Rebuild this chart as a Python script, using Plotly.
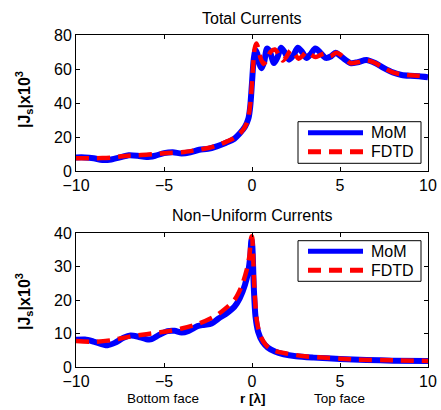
import plotly.graph_objects as go

# ---- Data: Total currents (top panel) ----
top_mom_x = [-10, -9.5, -9, -8.5, -8, -7.5, -7, -6.5, -6, -5.5, -5, -4.5, -4, -3.5, -3, -2.5, -2, -1.5, -1,
             -0.7, -0.4, -0.2, -0.1, 0, 0.1, 0.2, 0.3, 0.42, 0.55, 0.7, 0.85, 1.0, 1.25, 1.45, 1.65, 1.85,
             2.1, 2.35, 2.6, 2.85, 3.1, 3.35, 3.6, 3.85, 4.2, 4.5, 4.75, 5.1, 5.6, 6.0, 6.5, 7.0, 7.5, 8.0,
             8.5, 9.0, 9.5, 10]
top_mom_y = [8, 8, 7.5, 6.5, 6.8, 8, 9.3, 9, 8.2, 9, 10.5, 11, 10.3, 11, 12.5, 13, 14.5, 16.5, 19,
             22, 26, 31, 38, 52, 66, 71, 69, 63, 60.5, 64.5, 72, 70.5, 63.5, 67, 72.5, 70,
             65.5, 68, 72.5, 70, 66.5, 69, 72, 70, 66.5, 67.5, 69.5, 67, 63.5, 64, 65.3, 63.5, 60.5, 58,
             56.5, 56, 55.8, 55.2]

top_fdtd_x = [-10, -9.5, -9, -8.5, -8, -7.5, -7, -6.5, -6, -5.5, -5, -4.5, -4, -3.5, -3, -2.5, -2, -1.5, -1,
              -0.6, -0.3, -0.15, -0.05, 0.05, 0.15, 0.25, 0.35, 0.5, 0.65, 0.85, 1.05, 1.3, 1.55, 1.75, 1.95,
              2.2, 2.45, 2.65, 2.85, 3.1, 3.35, 3.6, 3.85, 4.1, 4.45, 4.8, 5.2, 5.6, 6.0, 6.5, 7.0, 7.5, 8.0,
              8.5, 9.0, 9.5, 10]
top_fdtd_y = [7.5, 7.5, 7.5, 7.6, 7.9, 8.5, 9, 9.3, 9.5, 10, 10.5, 10.8, 11, 11.7, 12.5, 13.5, 15, 17, 19.5,
              23, 28, 35, 45, 60, 72, 75, 72.5, 66, 63, 65.5, 70, 71.5, 68, 65, 67,
              71, 68.5, 66, 67.5, 70, 68.5, 67, 68, 69, 67.5, 69.5, 67, 63.5, 64, 65.2, 63.5, 60.5, 58,
              56.8, 56.3, 56, 55.5]

# ---- Data: Non-uniform currents (bottom panel) ----
bot_mom_x = [-10, -9.5, -9, -8.5, -8.2, -7.8, -7.3, -6.9, -6.5, -6, -5.7, -5.3, -4.8, -4.4, -4, -3.6, -3.1,
             -2.7, -2.3, -1.9, -1.4, -1, -0.7, -0.4, -0.2, -0.1, -0.03, 0.02, 0.1, 0.2, 0.35, 0.6, 0.9,
             1.3, 1.8, 2.5, 3.5, 5, 6.5, 8, 10]
bot_mom_y = [8.1, 8.2, 7.6, 6.8, 6.5, 7.2, 8.7, 9.4, 9.1, 8.3, 8.3, 9.5, 10.7, 10.8, 10.3, 10.8, 12.2,
             12.6, 13, 14.5, 16.2, 18, 20.5, 24.5, 29, 33, 38, 36, 24, 15, 10.5, 7.5, 5.8,
             4.6, 3.8, 3.2, 2.8, 2.4, 2.1, 1.9, 1.8]

bot_fdtd_x = [-10, -9, -8, -7, -6, -5, -4, -3, -2, -1.5, -1, -0.6, -0.3, -0.15, -0.05, 0, 0.05, 0.15,
              0.3, 0.5, 0.8, 1.2, 2, 3, 4, 5, 6, 8, 10]
bot_fdtd_y = [7.8, 7.5, 8, 9, 9.8, 10.5, 11.5, 13, 15.5, 17.5, 20, 24, 29, 33, 38.5, 39, 35, 22,
              13, 9, 6.5, 5, 4, 3.2, 2.8, 2.5, 2.2, 2, 1.8]

x_ticks = [-10, -5, 0, 5, 10]
top_y_ticks = [0, 20, 40, 60, 80]
bot_y_ticks = [0, 10, 20, 30, 40]
series_names = ["MoM", "FDTD"]
panel_titles = ["Total Currents", "Non\u2212Uniform Currents"]
y_label = "|J<sub>s</sub>|x10<sup>3</sup>"
bottom_labels = ["Bottom face", "<b>r [\u03bb]</b>", "Top face"]

FONT = "Liberation Sans, Arial, Helvetica, sans-serif"
BLUE = "#0000ff"
RED = "#ff0000"
DASH = "13px,8px"

# figure geometry (pixels) used to convert to paper coordinates
L, R, T, B = 76, 428, 35, 367


def px(xp):
    return (xp - L) / (R - L)


def py(yp):
    return (B - yp) / (B - T)


fig = go.Figure()

fig.add_trace(go.Scatter(x=top_mom_x, y=top_mom_y, mode="lines", name=series_names[0],
                         line=dict(color=BLUE, width=6, shape="spline", smoothing=0.8),
                         xaxis="x", yaxis="y", showlegend=False))
fig.add_trace(go.Scatter(x=top_fdtd_x, y=top_fdtd_y, mode="lines", name=series_names[1],
                         line=dict(color=RED, width=4.5, dash=DASH, shape="spline", smoothing=0.8),
                         xaxis="x", yaxis="y", showlegend=False))
fig.add_trace(go.Scatter(x=bot_mom_x, y=bot_mom_y, mode="lines", name=series_names[0],
                         line=dict(color=BLUE, width=6, shape="spline", smoothing=0.8),
                         xaxis="x2", yaxis="y2", showlegend=False))
fig.add_trace(go.Scatter(x=bot_fdtd_x, y=bot_fdtd_y, mode="lines", name=series_names[1],
                         line=dict(color=RED, width=4.5, dash=DASH, shape="spline", smoothing=0.8),
                         xaxis="x2", yaxis="y2", showlegend=False))

axis_common = dict(showline=True, linecolor="black", linewidth=1, mirror="ticks",
                   ticks="inside", ticklen=4, tickcolor="black", showgrid=False, zeroline=False,
                   automargin=False,
                   tickfont=dict(family=FONT, size=16, color="black"))

fig.update_layout(
    width=441, height=410,
    margin=dict(l=L, r=441 - R, t=T, b=410 - B, autoexpand=False),
    paper_bgcolor="white", plot_bgcolor="white",
    font=dict(family=FONT, color="black"),
    xaxis=dict(domain=[0, 1], range=[-10, 10], tickvals=x_ticks, anchor="y", **axis_common),
    yaxis=dict(domain=[py(171), 1], range=[0, 80], tickvals=top_y_ticks, anchor="x", **axis_common),
    xaxis2=dict(domain=[0, 1], range=[-10, 10], tickvals=x_ticks, anchor="y2", **axis_common),
    yaxis2=dict(domain=[0, py(233)], range=[0, 40], tickvals=bot_y_ticks, anchor="x2", **axis_common),
    showlegend=False,
)


def ann(text, x, y, size, angle=0, xanchor="center"):
    return dict(text=text, x=x, y=y, xref="paper", yref="paper", showarrow=False,
                xanchor=xanchor, yanchor="middle", textangle=angle,
                font=dict(family=FONT, size=size, color="black"))


annots = [
    ann(panel_titles[0], 0.5, py(18), 16),
    ann(panel_titles[1], 0.5, py(215), 16),
    ann("<b>" + y_label + "</b>", px(24), py(100), 16, -90),
    ann("<b>" + y_label + "</b>", px(24), py(302), 16, -90),
    ann(bottom_labels[0], px(163), py(398), 13.5),
    ann(bottom_labels[1], px(253), py(398), 13.5),
    ann(bottom_labels[2], px(339), py(398), 13.5),
]

shapes = []
# manual MATLAB-style legend boxes: (box top, box bottom, first entry y, second entry y)
for top, bot, y1, y2 in [(121.7, 163.3, 132.7, 151.7), (240.7, 281.3, 251.3, 270.3)]:
    shapes.append(dict(type="rect", xref="paper", yref="paper", x0=px(298), x1=px(421),
                       y0=py(bot), y1=py(top), fillcolor="white",
                       line=dict(color="black", width=1), layer="above"))
    shapes.append(dict(type="line", xref="paper", yref="paper", x0=px(308), x1=px(363),
                       y0=py(y1), y1=py(y1), line=dict(color=BLUE, width=5), layer="above"))
    shapes.append(dict(type="line", xref="paper", yref="paper", x0=px(308), x1=px(363),
                       y0=py(y2), y1=py(y2), line=dict(color=RED, width=5, dash=DASH), layer="above"))
    annots.append(ann(series_names[0], px(369), py(y1), 16, xanchor="left"))
    annots.append(ann(series_names[1], px(369), py(y2), 16, xanchor="left"))

fig.update_layout(annotations=annots, shapes=shapes)

fig.write_html("out.html")
